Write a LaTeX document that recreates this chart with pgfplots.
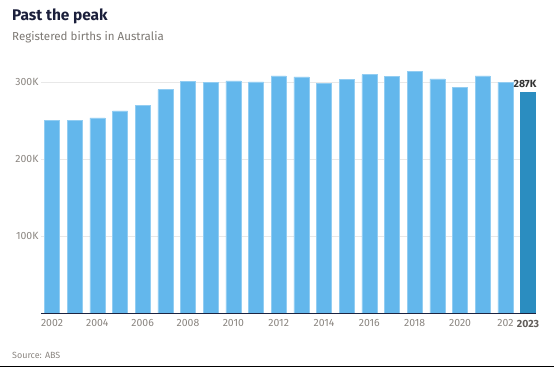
\documentclass[border=0pt]{standalone}
\usepackage{pgfplots}
\pgfplotsset{compat=1.18}
\usepackage{fontspec}
\setmainfont{Fira Sans}
\definecolor{barblue}{HTML}{63B7EC}
\definecolor{lastblue}{HTML}{2B8DC0}
\definecolor{titlenavy}{HTML}{1B1F3B}
\definecolor{ticktext}{HTML}{8A8580}
\definecolor{gridc}{HTML}{E8E8E8}
\definecolor{basec}{HTML}{1C2340}
\begin{document}
\begin{tikzpicture}[x=1bp,y=1bp]
\path[use as bounding box] (0,0) rectangle (554,367);
\node[anchor=base west, font=\bfseries\fontsize{15.5}{18}\selectfont, text=titlenavy, inner sep=0] at (12,347) {Past the peak};
\node[anchor=base west, font=\fontsize{11.6}{14}\selectfont, text=ticktext!90!black, inner sep=0] at (12,327) {Registered births in Australia};
\node[anchor=base west, font=\fontsize{9}{10}\selectfont, text=ticktext, inner sep=0] at (12,9) {Source: ABS};
\draw[black, line width=1bp] (0,0.5)--(554,0.5);
\begin{axis}[
  at={(41bp,53.7bp)}, anchor=south west,
  scale only axis, width=495bp, height=254bp,
  ymin=0, ymax=330, xmin=-0.485, xmax=21.35,
  axis line style={draw=none},
  ymajorgrids, grid style={gridc, line width=1bp},
  major tick length=0pt,
  xtick={0,2,4,6,8,10,12,14,16,18,20,21},
  xticklabels={2002,2004,2006,2008,2010,2012,2014,2016,2018,2020,202,\textbf{\color{ticktext!70!black}2023}},
  ytick={100,200,300}, yticklabels={100K,200K,300K},
  tick label style={font=\fontsize{10.5}{12}\selectfont, text=ticktext},
  xticklabel style={yshift=-3bp},
  yticklabel style={xshift=1bp},
  ybar, bar width=15bp,
  clip=false,
]
\addplot[fill=barblue, draw=barblue!70!white, bar shift=0pt] coordinates {
(0,250.3) (1,250.3) (2,253.8) (3,263) (4,270) (5,290.7) (6,301) (7,300) (8,302) (9,300.6)
(10,308.6) (11,307.2) (12,299.2) (13,303.8) (14,310.2) (15,308.2) (16,314.2) (17,304.5) (18,293.3) (19,308.6) (20,300)
};
\addplot[fill=lastblue, draw=lastblue, bar shift=0pt,
  nodes near coords={\textbf{287K}},
  every node near coord/.append style={font=\fontsize{10.5}{12}\selectfont, text=black!80, xshift=-3bp, yshift=1bp}] coordinates {(21,287)};
\draw[basec, line width=1.5bp] (axis cs:-0.485,0) -- (axis cs:21.35,0);
\end{axis}
\end{tikzpicture}
\end{document}
